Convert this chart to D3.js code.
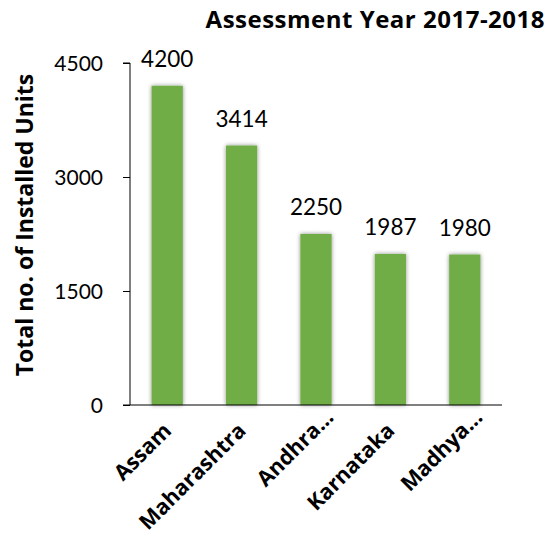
<!DOCTYPE html>
<html><head><meta charset="utf-8">
<script src="https://cdn.jsdelivr.net/npm/d3@7"></script>
<style>body{margin:0;background:#fff;} svg{display:block;}</style>
</head><body>
<svg id="chart" width="559" height="537"></svg>
<script>
const categories = ["Assam","Maharashtra","Andhra...","Karnataka","Madhya..."];
const values = [4200,3414,2250,1987,1980];
const yTicks = [0,1500,3000,4500];
const title = "Assessment Year 2017-2018";
const yTitle = "Total no. of Installed Units";

const svg = d3.select("#chart");
const font = "Lato, 'Open Sans', sans-serif";
const bold = "'Open Sans', Lato, sans-serif";
const m = {left:130, right:57, top:63, bottom:132};
const W = 559, H = 537;

const x = d3.scaleBand().domain(categories).range([m.left, W - m.right]).paddingInner(0.58).paddingOuter(0.29);
const y = d3.scaleLinear().domain([0,4500]).range([H - m.bottom, m.top]);

const defs = svg.append("defs");
const f = defs.append("filter").attr("id","sh").attr("x","-30%").attr("y","-10%").attr("width","160%").attr("height","120%");
f.append("feDropShadow").attr("dx",0).attr("dy",0).attr("stdDeviation",2).attr("flood-color","#000").attr("flood-opacity",0.45);

svg.append("g").selectAll("rect").data(values).join("rect")
  .attr("x",(d,i)=>x(categories[i]))
  .attr("y",d=>y(d))
  .attr("width",x.bandwidth())
  .attr("height",d=>y(0)-y(d))
  .attr("fill","#70AD47")
  .attr("filter","url(#sh)");

// y axis
const ya = svg.append("g").attr("transform",`translate(${m.left},0)`)
  .call(d3.axisLeft(y).tickValues(yTicks).tickSize(7).tickPadding(20).tickFormat(d3.format("d")));
ya.select(".domain").attr("stroke","#000").attr("d",`M-7,${y(4500)}H0V${y(0)}`);
ya.selectAll(".tick line").attr("stroke","#000");
ya.selectAll(".tick text").attr("font-family",font).attr("font-size",21).attr("fill","#000").attr("dy","0.35em");

// x axis
svg.append("line").attr("x1",m.left-7).attr("x2",W-m.right).attr("y1",y(0)).attr("y2",y(0)).attr("stroke","#000");

svg.append("g").selectAll("text").data(categories).join("text")
  .attr("transform",d=>`translate(${x(d)+x.bandwidth()/2+5.5},${y(0)+27}) rotate(-45)`)
  .attr("x",d=>d.endsWith("...") ? 19 : 0)
  .attr("text-anchor","end")
  .attr("font-family",bold).attr("font-weight","bold").attr("font-size",21.5).attr("fill","#000")
  .text(d=>d);

// value labels
svg.append("g").selectAll("text").data(values).join("text")
  .attr("x",(d,i)=>x(categories[i])+x.bandwidth()/2)
  .attr("y",d=>y(d)-19)
  .attr("text-anchor","middle")
  .attr("font-family",font).attr("font-size",22.5).attr("fill","#000")
  .text(d=>d);

// title
svg.append("text").attr("x",545).attr("y",28).attr("text-anchor","end")
  .attr("font-family",bold).attr("font-weight","bold").attr("font-size",24).attr("letter-spacing",0.5).attr("fill","#000")
  .text(title);

svg.append("text").attr("transform",`translate(33,${(78+372)/2}) rotate(-90)`)
  .attr("text-anchor","middle")
  .attr("font-family",bold).attr("font-weight","bold").attr("font-size",23).attr("fill","#000")
  .text(yTitle);
</script>
</body></html>
